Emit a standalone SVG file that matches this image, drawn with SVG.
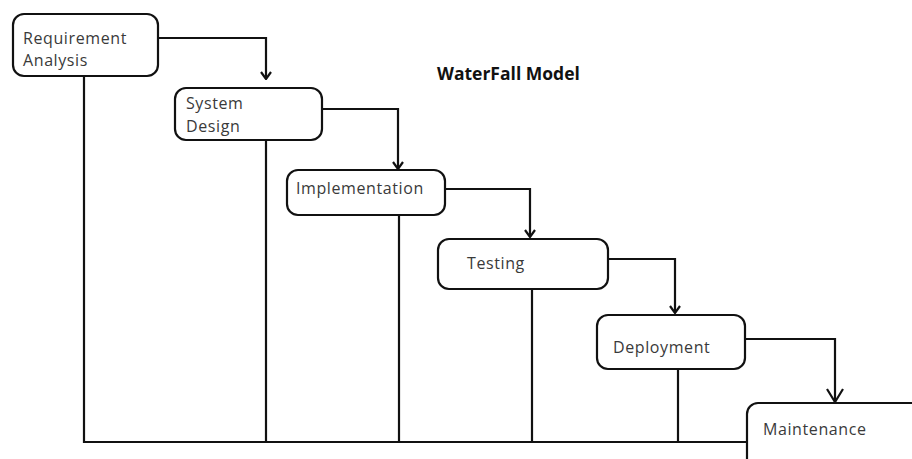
<svg xmlns="http://www.w3.org/2000/svg" width="912" height="459" viewBox="0 0 912 459">
  <style>
    .box { fill: #fff; stroke: #111; stroke-width: 2.2; }
    .line { fill: none; stroke: #111; stroke-width: 2.2; }
    .label { font-family: "Open Sans", "Liberation Sans", sans-serif; font-size: 16px; letter-spacing: 0.6px; fill: #3a3a3a; }
    .title { font-family: "Open Sans", "Liberation Sans", sans-serif; font-size: 17.5px; font-weight: bold; fill: #111; }
  </style>
  <defs>
    <!-- open V arrowheads; drawn pointing along +x so orient="auto" turns them along the line -->
    <marker id="vee" viewBox="0 0 12 12" refX="11" refY="6" markerWidth="12" markerHeight="12" markerUnits="userSpaceOnUse" orient="auto">
      <polyline points="4,1 11,6 4,11" fill="none" stroke="#111" stroke-width="2.2"/>
    </marker>
    <marker id="vee-big" viewBox="0 0 16 18" refX="15" refY="9" markerWidth="16" markerHeight="18" markerUnits="userSpaceOnUse" orient="auto">
      <polyline points="2,1 15,9 2,17" fill="none" stroke="#111" stroke-width="2.2"/>
    </marker>
  </defs>

  <rect width="912" height="459" fill="#fff"/>

  <text class="title" x="437" y="80">WaterFall Model</text>

  <g id="connectors">
    <!-- vertical returns to the base line -->
    <path class="line" d="M84,76 V442 H747"/>
    <path class="line" d="M266,140 V442"/>
    <path class="line" d="M399,215 V442"/>
    <path class="line" d="M532,289 V442"/>
    <path class="line" d="M678,369 V442"/>
    <!-- forward flow between phases -->
    <path class="line" d="M158,38 H266 V79" marker-end="url(#vee)"/>
    <path class="line" d="M322,109 H398 V169" marker-end="url(#vee)"/>
    <path class="line" d="M445,189 H530 V237" marker-end="url(#vee)"/>
    <path class="line" d="M608,259 H675 V313" marker-end="url(#vee)"/>
    <path class="line" d="M745,339 H835 V402" marker-end="url(#vee-big)"/>
  </g>

  <g id="requirement-analysis">
    <rect class="box" x="13" y="14" width="145" height="62" rx="11"/>
    <text class="label" x="23" y="44">Requirement</text>
    <text class="label" x="23" y="66">Analysis</text>
  </g>

  <g id="system-design">
    <rect class="box" x="175" y="88" width="147" height="52" rx="11"/>
    <text class="label" x="186" y="109">System</text>
    <text class="label" x="186" y="132">Design</text>
  </g>

  <g id="implementation">
    <rect class="box" x="287" y="170" width="158" height="45" rx="11"/>
    <text class="label" x="296" y="194">Implementation</text>
  </g>

  <g id="testing">
    <rect class="box" x="438" y="239" width="170" height="50" rx="11"/>
    <text class="label" x="467" y="269">Testing</text>
  </g>

  <g id="deployment">
    <rect class="box" x="597" y="315" width="148" height="54" rx="11"/>
    <text class="label" x="613" y="353">Deployment</text>
  </g>

  <g id="maintenance">
    <rect class="box" x="747" y="403" width="180" height="70" rx="11"/>
    <text class="label" x="763" y="435">Maintenance</text>
  </g>
</svg>
